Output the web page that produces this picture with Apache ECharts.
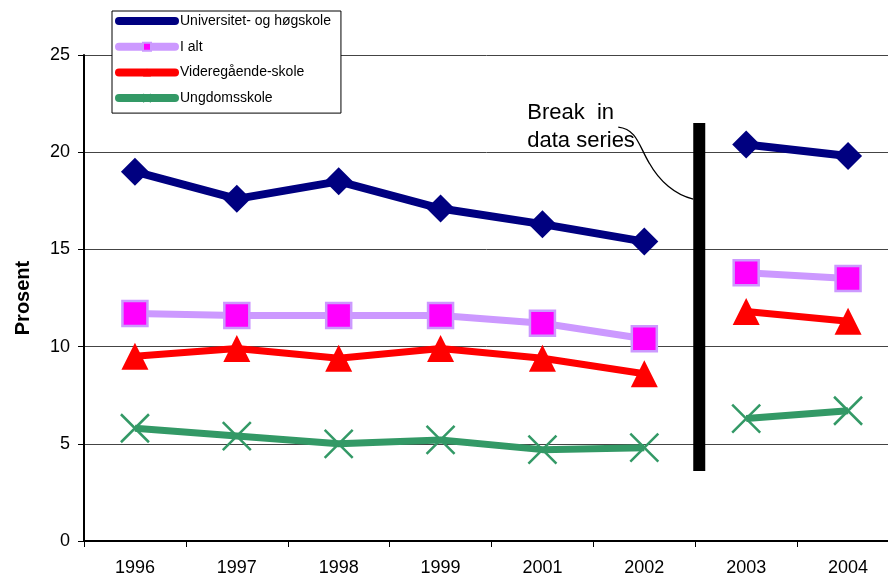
<!DOCTYPE html>
<html>
<head>
<meta charset="utf-8">
<script src="https://cdn.jsdelivr.net/npm/echarts@6/dist/echarts.min.js"></script>
<style>
html,body{margin:0;padding:0;background:#fff;}
#chart{width:888px;height:581px;}
</style>
</head>
<body>
<div id="chart"></div>
<script>
// ---- data ----
const categories = ['1996', '1997', '1998', '1999', '2001', '2002', '2003', '2004'];
const universitet = [19.0, 17.6, 18.5, 17.1, 16.3, 15.4, 20.4, 19.8];
const iAlt = [11.7, 11.6, 11.6, 11.6, 11.2, 10.4, 13.8, 13.5];
const videregaende = [9.5, 9.9, 9.4, 9.9, 9.4, 8.6, 11.8, 11.3];
const ungdomsskole = [5.8, 5.4, 5.0, 5.2, 4.7, 4.8, 6.3, 6.7];
const breakAfter = 5; // series is broken between 2002 and 2003
const yTicks = [0, 5, 10, 15, 20, 25];
const seriesNames = ['Universitet- og høgskole', 'I alt', 'Videregående-skole', 'Ungdomsskole'];

const FONT = "'Liberation Sans', Arial, sans-serif";
const xPath = 'path://M0,0L10,10M10,0L0,10';

const styles = [
  { symbol: 'diamond', symbolSize: 28, line: '#000080', item: { color: '#000080' }, lw: 8 },
  { symbol: 'rect', symbolSize: 25, line: '#CC99FF', item: { color: '#FF00FF', borderColor: '#CC99FF', borderWidth: 2.5 }, lw: 7 },
  { symbol: 'triangle', symbolSize: [27, 27], line: '#FF0000', item: { color: '#FF0000' }, lw: 7 },
  { symbol: xPath, symbolSize: 28, line: '#339966', item: { color: 'rgba(0,0,0,0)', borderColor: '#339966', borderWidth: 2.5 }, lw: 7 }
];
const datasets = [universitet, iAlt, videregaende, ungdomsskole];

function part(arr, first) {
  return arr.map((v, i) => (first ? (i <= breakAfter ? v : null) : (i > breakAfter ? v : null)));
}

const series = [];
datasets.forEach((arr, k) => {
  [true, false].forEach(first => {
    series.push({
      name: seriesNames[k],
      type: 'line',
      data: part(arr, first),
      symbol: styles[k].symbol,
      symbolSize: styles[k].symbolSize,
      showAllSymbol: true,
      connectNulls: false,
      lineStyle: { color: styles[k].line, width: styles[k].lw },
      itemStyle: styles[k].item,
      z: 10 - k,
      animation: false
    });
  });
});

const chart = echarts.init(document.getElementById('chart'), null, { renderer: 'canvas' });
chart.setOption({
  animation: false,
  backgroundColor: '#fff',
  textStyle: { fontFamily: FONT },
  grid: { left: 84, width: 815, top: 55, bottom: 40, outerBoundsMode: 'none', containLabel: false },
  legend: {
    data: seriesNames,
    orient: 'vertical',
    left: 112,
    top: 11,
    padding: [3, 10, 8, 3],
    itemGap: 11.7,
    itemWidth: 56,
    itemHeight: 10,
    backgroundColor: '#fff',
    borderColor: '#000',
    borderWidth: 1,
    textStyle: { fontFamily: FONT, fontSize: 14, color: '#000', padding: [0, 0, 0, 0] },
    lineStyle: { cap: 'round', width: 8 }
  },
  xAxis: {
    type: 'category',
    data: categories,
    boundaryGap: true,
    axisLine: { lineStyle: { color: '#000', width: 2 } },
    axisTick: { show: true, length: 6, lineStyle: { color: '#000', width: 1 }, interval: 0 },
    axisLabel: { fontFamily: FONT, fontSize: 18, color: '#000', margin: 18, interval: 0 },
    splitLine: { show: false }
  },
  yAxis: {
    type: 'value',
    min: yTicks[0],
    max: yTicks[yTicks.length - 1],
    interval: 5,
    name: 'Prosent',
    nameLocation: 'middle',
    nameRotate: 90,
    nameGap: 51,
    nameTextStyle: { fontFamily: FONT, fontSize: 20, fontWeight: 'bold', color: '#000' },
    axisLine: { show: true, lineStyle: { color: '#000', width: 2 } },
    axisTick: { show: true, length: 6, lineStyle: { color: '#000', width: 1 } },
    axisLabel: { fontFamily: FONT, fontSize: 18, color: '#000', margin: 14 },
    splitLine: { show: true, lineStyle: { color: '#444', width: 1 } }
  },
  series: series
});

// annotation: break marker between 2002 and 2003
const x1 = chart.convertToPixel({ xAxisIndex: 0 }, breakAfter);
const x2 = chart.convertToPixel({ xAxisIndex: 0 }, breakAfter + 1);
const bx = (x1 + x2) / 2 + 4;
const yTop = chart.convertToPixel({ yAxisIndex: 0 }, 21.5);
const yBot = chart.convertToPixel({ yAxisIndex: 0 }, 3.6);

chart.setOption({
  graphic: [
    { type: 'rect', shape: { x: bx - 6, y: yTop, width: 12, height: yBot - yTop }, style: { fill: '#000' }, z: 100 },
    {
      type: 'text', x: bx - 172, y: yTop - 24, z: 100,
      style: { text: 'Break  in\ndata series', font: '22px ' + FONT, fill: '#000', lineHeight: 28 }
    },
    {
      type: 'bezierCurve', z: 100,
      shape: {
        x1: bx - 81, y1: yTop + 4,
        cpx1: bx - 62, cpy1: yTop + 6,
        cpx2: bx - 60, cpy2: yTop + 24,
        x2: bx - 50, y2: yTop + 40
      },
      style: { fill: 'none', stroke: '#000', lineWidth: 1.3 }
    },
    {
      type: 'bezierCurve', z: 100,
      shape: {
        x1: bx - 50, y1: yTop + 40,
        cpx1: bx - 40, cpy1: yTop + 58,
        cpx2: bx - 24, cpy2: yTop + 72,
        x2: bx - 6, y2: yTop + 76
      },
      style: { fill: 'none', stroke: '#000', lineWidth: 1.3 }
    }
  ]
});
</script>
</body>
</html>
